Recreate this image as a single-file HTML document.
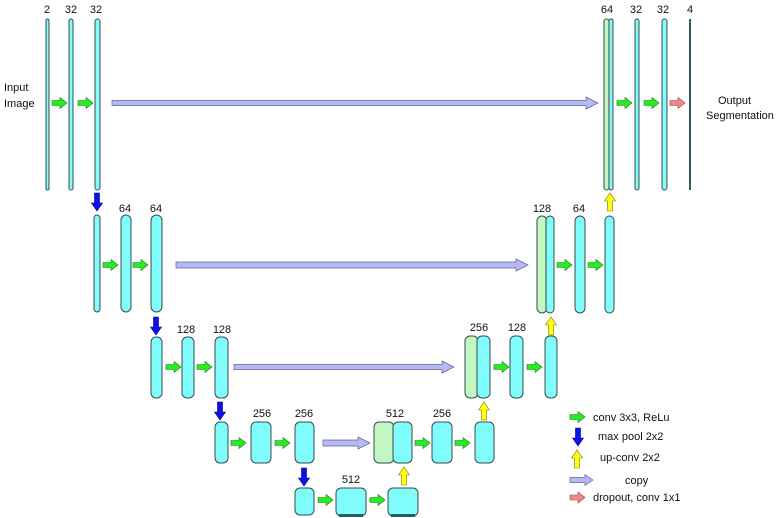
<!DOCTYPE html>
<html><head><meta charset="utf-8"><style>
html,body{margin:0;padding:0;background:#fff}
svg{display:block}
text{font-family:"Liberation Sans",sans-serif;font-size:11px;fill:#111}
.c{fill:#80fcfc;stroke:#3a4a4a;stroke-width:1}
.g{fill:#c2f7c2;stroke:#3a4a4a;stroke-width:1}
.ga{fill:#22ee22;stroke:#227722;stroke-width:.6}
.ba{fill:#1010e8;stroke:#000080;stroke-width:.6}
.ya{fill:#ffff10;stroke:#777700;stroke-width:.6}
.ca{fill:#b8b8f4;stroke:#6060a0;stroke-width:.7}
.pa{fill:#f48888;stroke:#a04040;stroke-width:.6}
</style></head><body>
<svg width="776" height="518" viewBox="0 0 776 518" xmlns="http://www.w3.org/2000/svg">
<defs>
<path id="gr" d="M0,-2.5H8V-5.5L15,0L8,5.5V2.5H0Z"/>
<path id="dn" d="M-2.5,0V10H-5.5L0,18L5.5,10H2.5V0Z"/>
<path id="up" d="M-2.5,18V8H-5.5L0,0L5.5,8H2.5V18Z"/>
</defs>
<!-- Level 1 -->
<text x="47" y="13" text-anchor="middle">2</text>
<text x="71" y="13" text-anchor="middle">32</text>
<text x="96" y="13" text-anchor="middle">32</text>
<text x="4" y="91">Input</text>
<text x="4" y="107">Image</text>
<rect class="c" x="46" y="19" width="3" height="171" rx="1.5"/>
<rect class="c" x="69" y="19" width="4" height="171" rx="2"/>
<rect class="c" x="95" y="19" width="5" height="171" rx="2.5"/>
<use href="#gr" class="ga" x="52" y="103"/>
<use href="#gr" class="ga" x="78" y="103"/>
<path class="ca" d="M112,100.5H586V97L598,103L586,109V105.5H112Z"/>
<text x="607" y="13" text-anchor="middle">64</text>
<text x="636" y="13" text-anchor="middle">32</text>
<text x="663" y="13" text-anchor="middle">32</text>
<text x="690" y="13" text-anchor="middle">4</text>
<rect class="g" x="604" y="19" width="5" height="171" rx="2.5"/>
<rect class="c" x="609" y="19" width="4" height="171" rx="2"/>
<rect class="c" x="635" y="19" width="4" height="171" rx="2"/>
<rect class="c" x="662" y="19" width="5" height="171" rx="2.5"/>
<rect x="689" y="19" width="2" height="171" fill="#2c6060"/>
<use href="#gr" class="ga" x="617" y="103"/>
<use href="#gr" class="ga" x="644" y="103"/>
<path class="pa" d="M670,100.5H678V97.5L685,103L678,108.5V105.5H670Z"/>
<text x="718" y="104">Output</text>
<text x="700" y="119" style="display:none"></text>
<text x="706" y="119">Segmentation</text>
<use href="#dn" class="ba" x="97" y="193"/>
<use href="#up" class="ya" x="610" y="193"/>
<!-- Level 2 -->
<text x="125" y="212" text-anchor="middle">64</text>
<text x="156" y="212" text-anchor="middle">64</text>
<rect class="c" x="94" y="215" width="6" height="97" rx="3"/>
<rect class="c" x="121" y="215" width="10" height="97" rx="5"/>
<rect class="c" x="151" y="215" width="11" height="97" rx="5.5"/>
<use href="#gr" class="ga" x="103" y="265"/>
<use href="#gr" class="ga" x="133" y="265"/>
<path class="ca" d="M176,262H516V259L528,265L516,271V268H176Z"/>
<text x="542" y="212" text-anchor="middle">128</text>
<text x="579" y="212" text-anchor="middle">64</text>
<rect class="g" x="537" y="216" width="10" height="97" rx="5"/>
<rect class="c" x="546" y="216" width="8" height="97" rx="4"/>
<rect class="c" x="575" y="216" width="10" height="97" rx="5"/>
<rect class="c" x="605" y="216" width="9" height="97" rx="4.5"/>
<use href="#gr" class="ga" x="557" y="265"/>
<use href="#gr" class="ga" x="588" y="265"/>
<use href="#dn" class="ba" x="156" y="317"/>
<use href="#up" class="ya" x="551" y="317"/>
<!-- Level 3 -->
<text x="186" y="333" text-anchor="middle">128</text>
<text x="222" y="333" text-anchor="middle">128</text>
<rect class="c" x="151" y="337" width="11" height="61" rx="5"/>
<rect class="c" x="182" y="337" width="12" height="61" rx="5"/>
<rect class="c" x="215" y="337" width="13" height="61" rx="5"/>
<use href="#gr" class="ga" x="166" y="367"/>
<use href="#gr" class="ga" x="197" y="367"/>
<path class="ca" d="M234,364.5H442V361L454,367L442,373V369.5H234Z"/>
<text x="479" y="331" text-anchor="middle">256</text>
<text x="517" y="331" text-anchor="middle">128</text>
<rect class="g" x="465" y="336" width="13" height="62" rx="5"/>
<rect class="c" x="477" y="336" width="13" height="62" rx="5"/>
<rect class="c" x="510" y="336" width="13" height="62" rx="5"/>
<rect class="c" x="545" y="336" width="12" height="62" rx="5"/>
<use href="#gr" class="ga" x="494" y="367"/>
<use href="#gr" class="ga" x="527" y="367"/>
<use href="#dn" class="ba" x="220" y="402"/>
<use href="#up" class="ya" x="484" y="402"/>
<!-- Level 4 -->
<text x="262" y="417" text-anchor="middle">256</text>
<text x="304" y="417" text-anchor="middle">256</text>
<rect class="c" x="215" y="422" width="13" height="41" rx="5"/>
<rect class="c" x="251" y="422" width="20" height="41" rx="5"/>
<rect class="c" x="295" y="422" width="19" height="41" rx="5"/>
<use href="#gr" class="ga" x="231" y="443"/>
<use href="#gr" class="ga" x="275" y="443"/>
<path class="ca" d="M323,440H358V437L370,443L358,449V446H323Z"/>
<text x="395" y="417" text-anchor="middle">512</text>
<text x="442" y="417" text-anchor="middle">256</text>
<rect class="g" x="374" y="422" width="20" height="41" rx="5"/>
<rect class="c" x="393" y="422" width="19" height="41" rx="5"/>
<rect class="c" x="432" y="422" width="20" height="41" rx="5"/>
<rect class="c" x="475" y="422" width="19" height="41" rx="5"/>
<use href="#gr" class="ga" x="415" y="443"/>
<use href="#gr" class="ga" x="455" y="443"/>
<use href="#dn" class="ba" x="304" y="468"/>
<use href="#up" class="ya" x="404" y="467"/>
<!-- Level 5 -->
<text x="351" y="483" text-anchor="middle">512</text>
<rect class="c" x="295" y="488" width="19" height="27" rx="5"/>
<rect class="c" x="336" y="488" width="30" height="28" rx="5"/>
<rect class="c" x="388" y="488" width="30" height="28" rx="5"/>
<rect x="339" y="514" width="24" height="3" fill="#2c6060"/>
<rect x="391" y="514" width="24" height="3" fill="#2c6060"/>
<use href="#gr" class="ga" x="318" y="500"/>
<use href="#gr" class="ga" x="370" y="500"/>
<!-- Legend -->
<use href="#gr" class="ga" x="570" y="417"/>
<text x="593" y="421">conv 3x3, ReLu</text>
<use href="#dn" class="ba" x="578" y="428"/>
<text x="598" y="440">max pool 2x2</text>
<use href="#up" class="ya" x="577" y="450"/>
<text x="600" y="461">up-conv 2x2</text>
<path class="ca" d="M570,477.5H585V474.5L593,480L585,485.5V482.5H570Z"/>
<text x="625" y="484">copy</text>
<path class="pa" d="M570,495H578V492L585,497.5L578,503V500H570Z"/>
<text x="593" y="501">dropout, conv 1x1</text>
</svg>
</body></html>
